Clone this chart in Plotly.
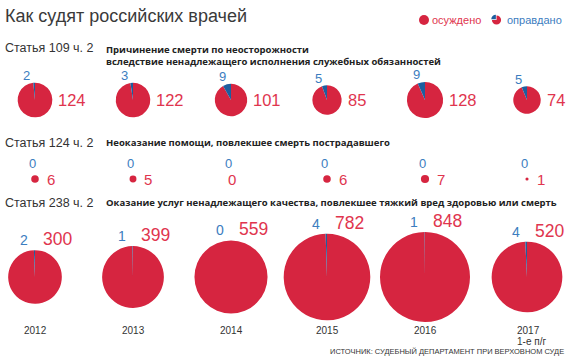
import math
import plotly.graph_objects as go

# ---------------- data ----------------
YEARS = ["2012", "2013", "2014", "2015", "2016", "2017"]
YEAR_NOTES = ["", "", "", "", "", "1-е п/г"]
ARTICLES = ["Статья 109 ч. 2", "Статья 124 ч. 2", "Статья 238 ч. 2"]
DESCRIPTIONS = [
    "Причинение смерти по неосторожности<br>вследствие ненадлежащего исполнения служебных обязанностей",
    "Неоказание помощи, повлекшее смерть пострадавшего",
    "Оказание услуг ненадлежащего качества, повлекшее тяжкий вред здоровью или смерть",
]
CONVICTED_109 = [124, 122, 101, 85, 128, 74]
ACQUITTED_109 = [2, 3, 9, 5, 9, 5]
CONVICTED_124 = [6, 5, 0, 6, 7, 1]
ACQUITTED_124 = [0, 0, 0, 0, 0, 0]
CONVICTED_238 = [300, 399, 559, 782, 848, 520]
ACQUITTED_238 = [2, 1, 0, 4, 1, 4]
SERIES_NAMES = ["осуждено", "оправдано"]
LEGEND_ICON_VALUES = [3, 1]
TITLE = "Как судят российских врачей"
SOURCE = "ИСТОЧНИК: СУДЕБНЫЙ ДЕПАРТАМЕНТ ПРИ ВЕРХОВНОМ СУДЕ"

# ---------------- style / layout ----------------
W, H = 570, 362
RED = "#D62540"
BLUE = "#1D5E9F"
RED_TXT = "#E0354E"
BLUE_TXT = "#3C7DC0"
DARK = "#333333"
COL_X = [35, 133, 231, 327, 425, 527]
ROW_Y = [100, 179, 277]
MAX_BOX = 90
NARROW = "Liberation Sans, Arial, sans-serif"
MAIN = "Open Sans, Noto Sans, sans-serif"

rows = [
    (CONVICTED_109, ACQUITTED_109),
    (CONVICTED_124, ACQUITTED_124),
    (CONVICTED_238, ACQUITTED_238),
]
max_total = max(c + a for conv, acq in rows for c, a in zip(conv, acq))
px_per_sqrt = (MAX_BOX / 2) / math.sqrt(max_total)


def px(x):
    return x / W


def py(y):
    return 1 - y / H


fig = go.Figure()
ann = []


def text(x, y, s, size, color, family=NARROW, xanchor="left", yanchor="middle", weight="normal", align="left"):
    ann.append(dict(x=px(x), y=py(y), xref="paper", yref="paper", text=s, showarrow=False,
                    xanchor=xanchor, yanchor=yanchor, align=align,
                    font=dict(size=size, color=color, family=family, weight=weight)))


for ri, (conv, acq) in enumerate(rows):
    cy = ROW_Y[ri]
    for ci in range(len(YEARS)):
        cx = COL_X[ci]
        total = conv[ci] + acq[ci]
        r = px_per_sqrt * math.sqrt(total)
        if total > 0:
            half = min(MAX_BOX, 2 * min(cx, W - cx)) / 2
            fig.add_trace(go.Pie(
                labels=SERIES_NAMES, values=[conv[ci], acq[ci]],
                marker=dict(colors=[RED, BLUE], line=dict(width=0)),
                sort=False, direction="clockwise", rotation=0,
                textinfo="none", hoverinfo="label+value",
                scalegroup="all", showlegend=False,
                domain=dict(x=[px(cx - half), px(cx + half)], y=[py(cy + half), py(cy - half)]),
            ))
        if ri == 0:
            text(cx - 9, cy - r - 7, str(acq[ci]), 13, BLUE_TXT, xanchor="center")
            text(cx + r + 4, cy, str(conv[ci]), 16.5, RED_TXT)
        elif ri == 1:
            text(cx - 3, cy - 16, str(acq[ci]), 13, BLUE_TXT, xanchor="center")
            if total > 0:
                text(cx + r + 6, cy, str(conv[ci]), 15, RED_TXT)
            else:
                text(cx + 1, cy, str(conv[ci]), 15, RED_TXT, xanchor="center")
        else:
            text(cx - 5, cy - r - 10, str(acq[ci]), 14, BLUE_TXT, xanchor="right")
            text(cx + 6, cy - r - 11, str(conv[ci]), 17.5, RED_TXT)

# years
for ci, yr in enumerate(YEARS):
    cx = COL_X[ci]
    if YEAR_NOTES[ci]:
        text(cx - 12, 330, yr, 10, DARK)
        text(cx - 12, 341, YEAR_NOTES[ci], 10, DARK)
    else:
        text(cx, 330, yr, 10, DARK, xanchor="center")

# headings
text(3, 16, TITLE, 18, "#3a3a3a")
for ri, ytop in enumerate([48, 143, 203]):
    text(3, ytop, ARTICLES[ri], 12.5, DARK)
for ri, yy in enumerate([55, 143, 203]):
    text(104, yy, DESCRIPTIONS[ri], 9.5, "#222222", MAIN, weight="bold")

# legend
text(430, 20, SERIES_NAMES[0], 11, RED_TXT)
text(505, 20, SERIES_NAMES[1], 11, BLUE_TXT)
fig.add_trace(go.Pie(values=[1], labels=[SERIES_NAMES[0]], marker=dict(colors=[RED]),
                     textinfo="none", hoverinfo="skip", showlegend=False,
                     domain=dict(x=[px(419), px(429)], y=[py(25), py(15)])))
fig.add_trace(go.Pie(values=LEGEND_ICON_VALUES, labels=SERIES_NAMES, marker=dict(colors=[RED, BLUE]),
                     sort=False, direction="clockwise", pull=[0, 0.2],
                     textinfo="none", hoverinfo="skip", showlegend=False,
                     domain=dict(x=[px(491), px(502)], y=[py(26), py(14)])))

# source
text(566, 351, SOURCE, 7.5, DARK, xanchor="right")

fig.update_layout(
    width=W, height=H, margin=dict(l=0, r=0, t=0, b=0),
    paper_bgcolor="white", plot_bgcolor="white",
    annotations=ann, showlegend=False,
)
fig.write_html("out.html", config={"displayModeBar": False},
               post_script="document.body.style.margin='0px';")
